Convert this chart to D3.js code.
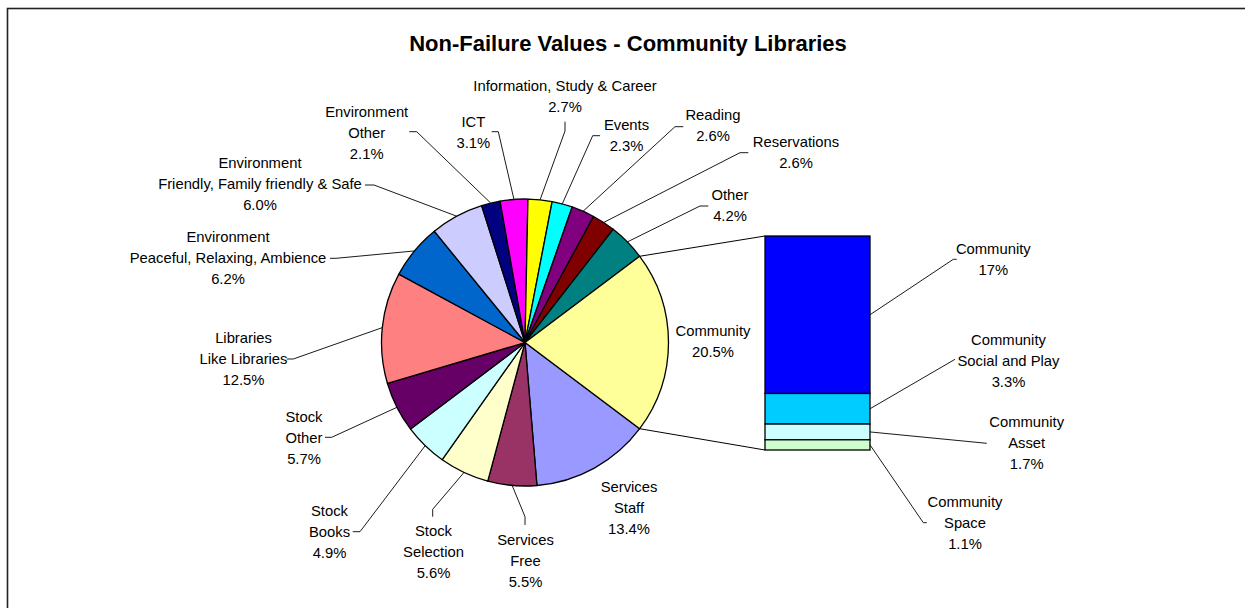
<!DOCTYPE html>
<html>
<head>
<meta charset="utf-8">
<script src="https://cdn.jsdelivr.net/npm/d3@7/dist/d3.min.js"></script>
<style>
  html, body { margin: 0; padding: 0; background: #fff; }
  svg { display: block; }
  text { font-family: "Liberation Sans", Arial, sans-serif; fill: #000; }
</style>
</head>
<body>
<svg id="chart" width="1245" height="608"></svg>
<script>
// ---- data ----
const pieCategories = [
  ["Services", "Staff"], ["Services", "Free"], ["Stock", "Selection"], ["Stock", "Books"],
  ["Stock", "Other"], ["Libraries", "Like Libraries"], ["Environment", "Peaceful, Relaxing, Ambience"],
  ["Environment", "Friendly, Family friendly & Safe"], ["Environment", "Other"], ["ICT"],
  ["Information, Study & Career"], ["Events"], ["Reading"], ["Reservations"], ["Other"], ["Community"]
];
const pieValues = [13.4, 5.5, 5.6, 4.9, 5.7, 12.5, 6.2, 6.0, 2.1, 3.1, 2.7, 2.3, 2.6, 2.6, 4.2, 20.5];
const pieColors = ["#9999FF", "#993366", "#FFFFCC", "#CCFFFF", "#660066", "#FF8080", "#0066CC",
  "#CCCCFF", "#000080", "#FF00FF", "#FFFF00", "#00FFFF", "#800080", "#800000", "#008080", "#FFFF99"];

const barCategories = [["Community"], ["Community", "Social and Play"], ["Community", "Asset"], ["Community", "Space"]];
const barValues = [17, 3.3, 1.7, 1.1];
const barColors = ["#0000FF", "#00CCFF", "#CCFFFF", "#CCFFCC"];

const title = "Non-Failure Values - Community Libraries";

// ---- layout ----
const W = 1245, H = 608;
const pieCx = 525, pieCy = 342.5, pieR = 143.5;
const barBox = { x0: 765, x1: 870, top: 236, bottom: 450 };
const lineGap = 21;

// label placement: text centre (x, first line y) and leader-line bend / end points
const pieLabelLayout = [
  { x: 629, y: 487 },
  { x: 525.5, y: 539.5, bend: [525, 516.7], end: [525, 525] },
  { x: 433.5, y: 530.7, bend: [432.7, 509.3], end: [432.7, 516.7] },
  { x: 329.5, y: 510.7, bend: [360, 531.7], end: [352.7, 531.7] },
  { x: 304, y: 416.7, bend: [331.7, 437.3], end: [325, 437.3] },
  { x: 243.5, y: 338, bend: [293.3, 359], end: [286.7, 359] },
  { x: 228, y: 236.7, bend: [336, 258.3], end: [330, 258.3] },
  { x: 260, y: 162.7, bend: [374, 185], end: [365, 185] },
  { x: 366.7, y: 111.7, bend: [416.7, 131.7], end: [409.3, 131.7] },
  { x: 473.3, y: 121.7, bend: [498.3, 131.7], end: [491.7, 131.7] },
  { x: 565, y: 86, bend: [565, 131], end: [565, 121.7] },
  { x: 626.5, y: 124.5, bend: [592.7, 135.7], end: [600, 135.7] },
  { x: 713, y: 115, bend: [675, 126.7], end: [683.3, 126.7] },
  { x: 796, y: 141.7, bend: [740, 152.7], end: [748.3, 152.7] },
  { x: 730, y: 195, bend: [700, 206], end: [708.3, 206] },
  { x: 713, y: 331 }
];
const barLabelLayout = [
  { x: 993.3, y: 248.3, bend: [953.3, 259.3], end: [956.7, 259.3] },
  { x: 1008.5, y: 339.3, bend: [955, 359.3], end: [955, 359.3] },
  { x: 1026.7, y: 421.7, bend: [986.7, 443.3], end: [986.7, 443.3] },
  { x: 965, y: 501.7, bend: [923.3, 522.7], end: [926.7, 522.7] }
];

const svg = d3.select("#chart");

// outer frame
svg.append("rect")
  .attr("x", 7.5).attr("y", 8.5).attr("width", W + 10).attr("height", H + 10)
  .attr("fill", "#fff").attr("stroke", "#222").attr("stroke-width", 1.6);

svg.append("text")
  .attr("x", 628).attr("y", 50.5)
  .attr("text-anchor", "middle")
  .attr("font-size", 22).attr("font-weight", "bold")
  .text(title);

// ---- pie ----
const combinedFrac = pieValues[pieValues.length - 1] / d3.sum(pieValues);
// combined slice (last) is centred on the right side, facing the bar
const start = Math.PI / 2 + Math.PI * combinedFrac - 2 * Math.PI;
const pie = d3.pie().sort(null).value(d => d).startAngle(start).endAngle(start + 2 * Math.PI);
const arcs = pie(pieValues);
const arc = d3.arc().innerRadius(0).outerRadius(pieR);
const rimArc = d3.arc().innerRadius(pieR).outerRadius(pieR);

const gPie = svg.append("g").attr("transform", `translate(${pieCx},${pieCy})`);
gPie.selectAll("path.slice")
  .data(arcs)
  .join("path")
  .attr("class", "slice")
  .attr("d", arc)
  .attr("fill", (d, i) => pieColors[i])
  .attr("stroke", "#000")
  .attr("stroke-width", 1.3)
  .attr("stroke-linejoin", "round");

// ---- bar of combined slice ----
const stackTotal = d3.sum(barValues);
const yBar = d3.scaleLinear().domain([0, stackTotal]).range([barBox.bottom, barBox.top]);
// stacked from the bottom: last category sits lowest
let acc = 0;
const barSegs = barValues.map((v, i) => ({ i, v })).reverse().map(s => {
  const seg = { ...s, y0: acc, y1: acc + s.v };
  acc += s.v;
  return seg;
}).reverse();

// connector lines from the combined slice edges to the bar
const comb = arcs[arcs.length - 1];
const edgePt = a => [pieCx + pieR * Math.sin(a), pieCy - pieR * Math.cos(a)];
const pA = edgePt(comb.startAngle), pB = edgePt(comb.endAngle);
svg.append("line").attr("x1", pA[0]).attr("y1", pA[1]).attr("x2", barBox.x0).attr("y2", yBar(stackTotal))
  .attr("stroke", "#000").attr("stroke-width", 1);
svg.append("line").attr("x1", pB[0]).attr("y1", pB[1]).attr("x2", barBox.x0).attr("y2", yBar(0))
  .attr("stroke", "#000").attr("stroke-width", 1);

svg.selectAll("rect.seg")
  .data(barSegs)
  .join("rect")
  .attr("class", "seg")
  .attr("x", barBox.x0)
  .attr("width", barBox.x1 - barBox.x0)
  .attr("y", d => yBar(d.y1))
  .attr("height", d => yBar(d.y0) - yBar(d.y1))
  .attr("fill", d => barColors[d.i])
  .attr("stroke", "#000")
  .attr("stroke-width", 1.3);

// ---- labels ----
const fmtPie = d3.format(".1f");
const fmtBar = d3.format(".2~g");

function drawLabel(lines, lay) {
  const t = svg.append("text")
    .attr("text-anchor", "middle")
    .attr("font-size", 14.8);
  lines.forEach((ln, k) => {
    t.append("tspan").attr("x", lay.x).attr("y", lay.y + 5.2 + k * lineGap).text(ln);
  });
}
function drawLeader(p0, lay) {
  if (!lay.bend) return;
  const pts = [p0, lay.bend, lay.end];
  svg.append("path")
    .attr("d", d3.line()(pts))
    .attr("fill", "none").attr("stroke", "#000").attr("stroke-width", 0.9);
}

arcs.forEach((d, i) => {
  const lay = pieLabelLayout[i];
  const c = rimArc.centroid(d);
  drawLeader([pieCx + c[0], pieCy + c[1]], lay);
  drawLabel([...pieCategories[i], fmtPie(pieValues[i]) + "%"], lay);
});

barSegs.forEach(s => {
  const lay = barLabelLayout[s.i];
  const yMid = yBar((s.y0 + s.y1) / 2);
  drawLeader([barBox.x1, yMid], lay);
  drawLabel([...barCategories[s.i], fmtBar(barValues[s.i]) + "%"], lay);
});
</script>
</body>
</html>
